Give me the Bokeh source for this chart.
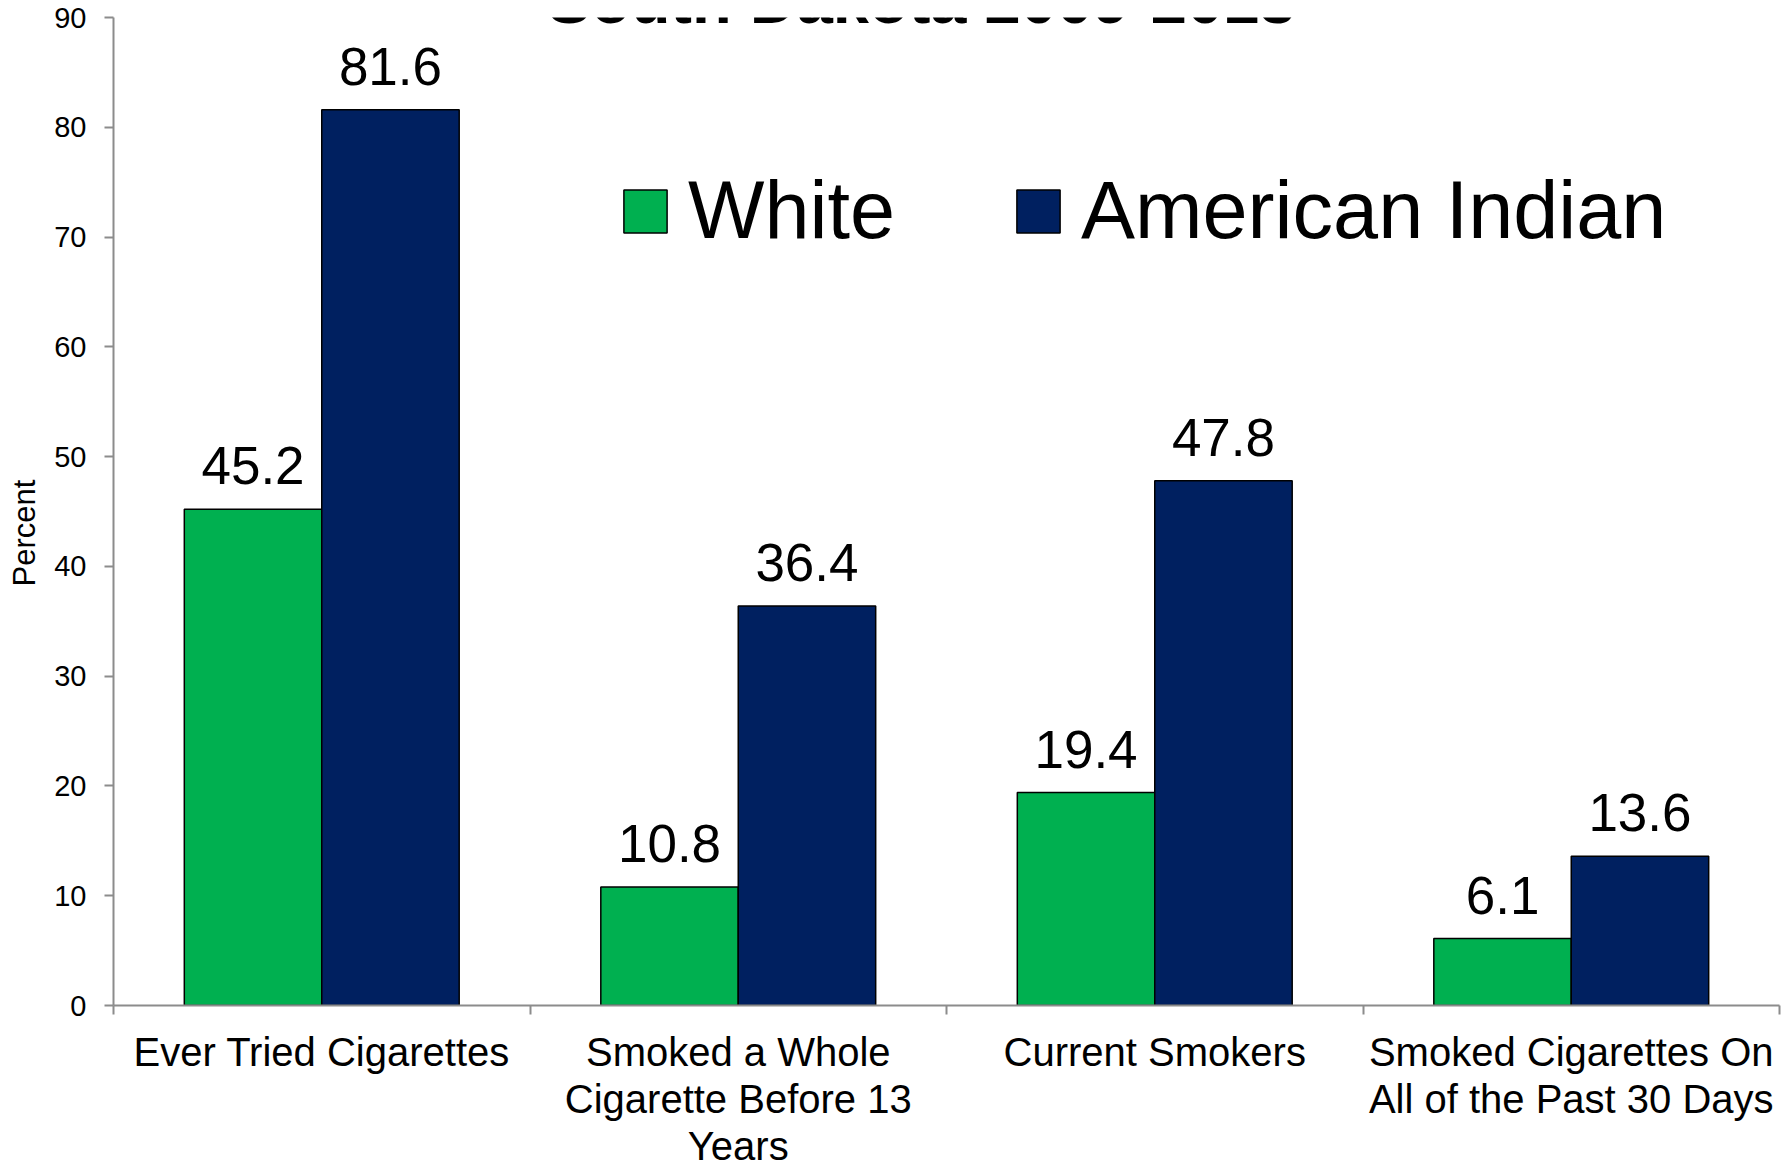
import numpy as np
from bokeh.plotting import figure
from bokeh.models import (ColumnDataSource, Range1d, FixedTicker, LabelSet, Label,
                          Legend, LegendItem)
from bokeh.core.properties import value
from bokeh.embed import file_html
from bokeh.resources import INLINE

# ---- data ----
categories = ["Ever Tried Cigarettes",
              "Smoked a Whole\nCigarette Before 13\nYears",
              "Current Smokers",
              "Smoked Cigarettes On\nAll of the Past 30 Days"]
white = [45.2, 10.8, 19.4, 6.1]
american_indian = [81.6, 36.4, 47.8, 13.6]
series_names = ["White", "American Indian"]
y_ticks = [0, 10, 20, 30, 40, 50, 60, 70, 80, 90]
title_text = "South Dakota 2009-2013"
y_label = "Percent"

GREEN = "#00B050"
NAVY = "#002060"
AXIS_GRAY = "#8C8C8C"
BAR_W = 0.33
OFF = 0.165

idx = np.arange(len(categories))
centers = idx + 0.5
src_w = ColumnDataSource(dict(x=centers - OFF, top=white,
                              lab=[f"{v:.1f}" for v in white]))
src_a = ColumnDataSource(dict(x=centers + OFF, top=american_indian,
                              lab=[f"{v:.1f}" for v in american_indian]))

p = figure(width=1790, height=1171, output_backend="svg", toolbar_location=None,
           x_range=Range1d(0, len(categories)), y_range=Range1d(0, y_ticks[-1]),
           min_border_left=113, min_border_right=11, min_border_top=17,
           min_border_bottom=165)
p.outline_line_color = None
p.xgrid.visible = False
p.ygrid.visible = False
p.background_fill_color = "white"
p.border_fill_color = "white"

r_w = p.vbar(x="x", top="top", width=BAR_W, bottom=0, source=src_w,
             fill_color=GREEN, line_color="black", line_width=1.5)
r_a = p.vbar(x="x", top="top", width=BAR_W, bottom=0, source=src_a,
             fill_color=NAVY, line_color="black", line_width=1.5)

for s in (src_w, src_a):
    p.add_layout(LabelSet(x="x", y="top", text="lab", source=s, y_offset=25,
                          text_align="center", text_baseline="alphabetic",
                          text_font=value("Liberation Sans"), text_font_size="53px",
                          text_color="black"))

# x axis: labels at category centres, ticks at category boundaries
xa = p.xaxis[0]
xa.ticker = FixedTicker(ticks=list(centers),
                        minor_ticks=list(map(float, range(len(categories) + 1))))
xa.major_label_overrides = {float(c): name for c, name in zip(centers, categories)}
xa.major_tick_line_color = None
xa.minor_tick_line_color = AXIS_GRAY
xa.minor_tick_line_width = 2
xa.minor_tick_in = 0
xa.minor_tick_out = 9
xa.axis_line_color = AXIS_GRAY
xa.axis_line_width = 2
xa.major_label_standoff = 15
xa.major_label_text_font = "Liberation Sans"
xa.major_label_text_font_size = "40px"
xa.major_label_text_line_height = 1.075
xa.major_label_text_color = "black"

ya = p.yaxis[0]
ya.ticker = FixedTicker(ticks=y_ticks)
ya.minor_tick_line_color = None
ya.major_tick_line_color = AXIS_GRAY
ya.major_tick_line_width = 2
ya.major_tick_in = 0
ya.major_tick_out = 9
ya.axis_line_color = AXIS_GRAY
ya.axis_line_width = 2
ya.major_label_standoff = 18
ya.major_label_text_font = "Liberation Sans"
ya.major_label_text_font_size = "29px"
ya.major_label_text_color = "black"
# trailing no-break spaces push the visible word slightly below the frame centre
ya.axis_label = y_label + "\u00a0" * 5
ya.axis_label_text_font = "Liberation Sans"
ya.axis_label_text_font_size = "31px"
ya.axis_label_text_font_style = "normal"
ya.axis_label_text_color = "black"
ya.axis_label_standoff = 9

legend = Legend(items=[LegendItem(label=series_names[0], renderers=[r_w]),
                       LegendItem(label=series_names[1], renderers=[r_a])],
                orientation="horizontal", location=(505, 748),
                glyph_width=54, glyph_height=54, label_standoff=16, spacing=116,
                padding=0, margin=0, border_line_color=None,
                background_fill_alpha=0,
                label_text_font="Liberation Sans", label_text_font_size="81px",
                label_text_color="black")
p.add_layout(legend, "center")

p.add_layout(Label(x=1.94, y=y_ticks[-1], y_offset=17, text=title_text,
                   text_align="center", text_baseline="alphabetic",
                   text_font="Liberation Sans", text_font_style="bold",
                   text_font_size="65px", text_color="black"))

open("out.html", "w").write(file_html(p, INLINE))
